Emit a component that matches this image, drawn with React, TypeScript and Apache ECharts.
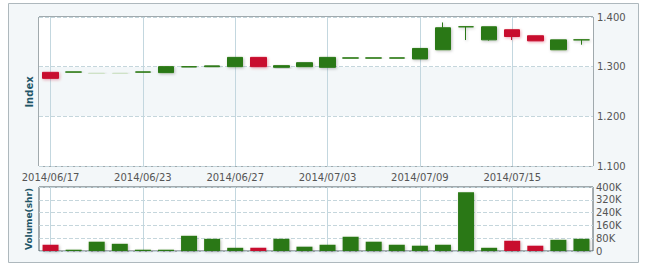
import React, { useEffect, useRef } from "react";
import * as echarts from "echarts";

const dates = [
  "2014/06/17", "2014/06/18", "2014/06/19", "2014/06/20", "2014/06/23", "2014/06/24",
  "2014/06/25", "2014/06/26", "2014/06/27", "2014/06/30", "2014/07/01", "2014/07/02",
  "2014/07/03", "2014/07/04", "2014/07/07", "2014/07/08", "2014/07/09", "2014/07/10",
  "2014/07/11", "2014/07/14", "2014/07/15", "2014/07/16", "2014/07/17", "2014/07/18",
];
const opens = [
  1.2886, 1.2890, 1.2863, 1.2863, 1.2890, 1.2880, 1.2995, 1.3000, 1.3000, 1.3187, 1.2987, 1.3000,
  1.2987, 1.3172, 1.3172, 1.3172, 1.3155, 1.3341, 1.3803, 1.3540, 1.3743, 1.3622, 1.3340, 1.3540,
];
const closes = [
  1.2765, 1.2894, 1.2868, 1.2868, 1.2894, 1.3000, 1.2999, 1.3016, 1.3187, 1.3000, 1.3020, 1.3080,
  1.3187, 1.3177, 1.3177, 1.3177, 1.3367, 1.3783, 1.3803, 1.3803, 1.3608, 1.3520, 1.3540, 1.3540,
];
const lows = [
  1.2765, 1.2890, 1.2863, 1.2863, 1.2890, 1.2880, 1.2995, 1.3000, 1.3000, 1.3000, 1.2987, 1.3000,
  1.2987, 1.3172, 1.3172, 1.3172, 1.3155, 1.3341, 1.3536, 1.3525, 1.3536, 1.3520, 1.3340, 1.3442,
];
const highs = [
  1.2886, 1.2894, 1.2868, 1.2868, 1.2894, 1.3000, 1.2999, 1.3016, 1.3187, 1.3187, 1.3020, 1.3080,
  1.3187, 1.3177, 1.3177, 1.3177, 1.3367, 1.3890, 1.3803, 1.3803, 1.3743, 1.3622, 1.3540, 1.3540,
];
const volumes = [
  39000, 8000, 58000, 45000, 8000, 8000, 95000, 76000, 20000, 20000, 76000, 27000,
  39000, 89000, 58000, 39000, 33000, 39000, 367000, 20000, 64000, 33000, 70000, 76000,
];
const fadedDays = ["2014/06/19", "2014/06/20"];
const labelDays = ["2014/06/17", "2014/06/23", "2014/06/27", "2014/07/03", "2014/07/09", "2014/07/15"];

const GREEN = "#2a7814";
const RED = "#c8102e";
const FADED = "#cfe3c8";

export default function App() {
  const ref = useRef<HTMLDivElement>(null);
  useEffect(() => {
    if (!ref.current) return;
    const chart = echarts.init(ref.current, undefined, { renderer: "svg" });
    const font = "DejaVu Sans, Verdana, sans-serif";
    const candleData = dates.map((d, i) => {
      const down = closes[i] < opens[i];
      const c = fadedDays.includes(d) ? FADED : down ? RED : GREEN;
      return {
        value: [opens[i], closes[i], lows[i], highs[i]],
        itemStyle: {
          color: c, color0: c, borderColor: c, borderColor0: c, borderColorDoji: c,
          shadowBlur: 3,
          shadowColor: down ? "rgba(200,16,46,0.35)" : "rgba(0,0,0,0.25)",
          shadowOffsetX: 1, shadowOffsetY: 1,
        },
      };
    });
    const volData = volumes.map((v, i) => ({
      value: v,
      itemStyle: {
        color: closes[i] < opens[i] ? RED : GREEN,
        shadowBlur: 3, shadowColor: "rgba(0,0,0,0.25)", shadowOffsetX: 1, shadowOffsetY: 1,
      },
    }));
    const vLines = {
      silent: true,
      z: 1,
      symbol: ["none", "none"],
      label: { show: false },
      lineStyle: { color: "#c3d7df", type: "solid", width: 1 },
      data: labelDays.map((d) => ({ xAxis: d })),
    };
    const gridBorder = "#4f5d63";
    chart.setOption({
      animation: false,
      backgroundColor: "#ffffff",
      graphic: [
        {
          type: "rect", z: -10,
          shape: { x: 8.5, y: 3.5, width: 630, height: 259 },
          style: { fill: "#f3f7f9", stroke: "#aeb8bd", lineWidth: 1 },
        },
        {
          type: "text", z: 10, x: 29, y: 92, rotation: Math.PI / 2,
          style: { text: "Index", align: "center", verticalAlign: "middle", fill: "#1f5668", font: `bold 10px ${font}` },
        },
        {
          type: "text", z: 10, x: 29, y: 219, rotation: Math.PI / 2,
          style: { text: "Volume(shr)", align: "center", verticalAlign: "middle", fill: "#1f5668", font: `bold 9px ${font}` },
        },
      ],
      grid: [
        { left: 39, top: 17, width: 554, height: 149, show: true, backgroundColor: "#ffffff", borderColor: gridBorder, borderWidth: 1 },
        { left: 39, top: 187, width: 554, height: 64, show: true, backgroundColor: "#ffffff", borderColor: gridBorder, borderWidth: 1 },
      ],
      xAxis: [
        {
          type: "category", gridIndex: 0, data: dates, boundaryGap: true,
          axisLine: { show: false }, axisTick: { show: false }, splitLine: { show: false },
          axisLabel: { interval: 3, color: "#555", fontSize: 10, fontFamily: font, margin: 6 },
        },
        {
          type: "category", gridIndex: 1, data: dates, boundaryGap: true,
          axisLine: { show: false }, axisTick: { show: false }, splitLine: { show: false },
          axisLabel: { show: false },
        },
      ],
      yAxis: [
        {
          type: "value", gridIndex: 0, position: "right", min: 1.1, max: 1.4, interval: 0.1,
          axisLine: { show: false }, axisTick: { show: false },
          axisLabel: { color: "#555", fontSize: 10, fontFamily: font, margin: 4, formatter: (v: number) => v.toFixed(3) },
          splitLine: { show: true, lineStyle: { color: "#c5d6dc", type: "dashed" } },
          splitArea: { show: true, areaStyle: { color: ["#ffffff", "#f3f7f9"] } },
        },
        {
          type: "value", gridIndex: 1, position: "right", min: 0, max: 400000, interval: 80000,
          axisLine: { show: false }, axisTick: { show: false },
          axisLabel: {
            color: "#555", fontSize: 10, fontFamily: font, margin: 3,
            formatter: (v: number) => (v === 0 ? "0" : `${Math.round(v / 1000)}K`),
          },
          splitLine: { show: true, lineStyle: { color: "#c5d6dc", type: "dashed" } },
        },
      ],
      series: [
        {
          type: "candlestick", xAxisIndex: 0, yAxisIndex: 0, barWidth: 16, z: 3,
          data: candleData, markLine: vLines,
        },
        {
          type: "bar", xAxisIndex: 1, yAxisIndex: 1, barWidth: 16, z: 3,
          data: volData, markLine: vLines,
        },
      ],
    });
    return () => chart.dispose();
  }, []);
  return <div ref={ref} style={{ position: "fixed", left: 0, top: 0, width: 650, height: 273 }} />;
}
